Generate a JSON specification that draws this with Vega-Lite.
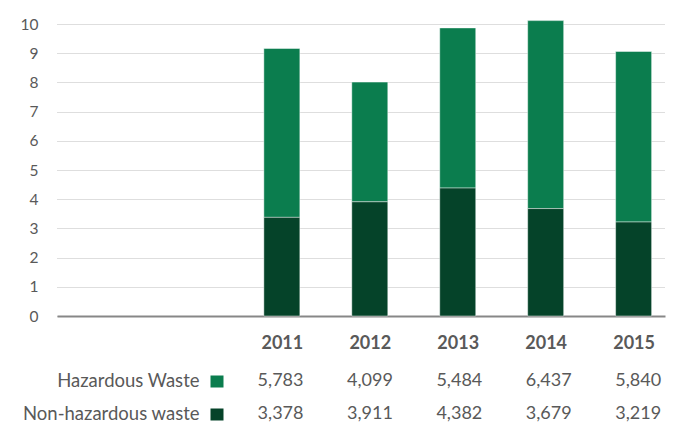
{
  "$schema": "https://vega.github.io/schema/vega-lite/v6.json",
  "padding": {"left": 20, "top": 17, "right": 5, "bottom": 0},
  "bounds": "flush",
  "spacing": 48,
  "config": {"font": "Lato", "view": {"stroke": null}},
  "data": {
    "values": [
      {"year": 2011, "series": "Hazardous Waste", "value": 5783},
      {"year": 2012, "series": "Hazardous Waste", "value": 4099},
      {"year": 2013, "series": "Hazardous Waste", "value": 5484},
      {"year": 2014, "series": "Hazardous Waste", "value": 6437},
      {"year": 2015, "series": "Hazardous Waste", "value": 5840},
      {"year": 2011, "series": "Non-hazardous waste", "value": 3378},
      {"year": 2012, "series": "Non-hazardous waste", "value": 3911},
      {"year": 2013, "series": "Non-hazardous waste", "value": 4382},
      {"year": 2014, "series": "Non-hazardous waste", "value": 3679},
      {"year": 2015, "series": "Non-hazardous waste", "value": 3219}
    ]
  },
  "vconcat": [
    {
      "width": 608,
      "height": 292,
      "mark": {"type": "bar", "width": 36, "stroke": "#ffffff", "strokeOpacity": 0.45, "strokeWidth": 1},
      "encoding": {
        "x": {
          "field": "year",
          "type": "quantitative",
          "scale": {"domain": [2008.5, 2015.3], "nice": false, "zero": false},
          "axis": {
            "title": null,
            "values": [2011, 2012, 2013, 2014, 2015],
            "format": "d",
            "labelFlush": false,
            "labelAngle": 0,
            "labelFontSize": 18,
            "labelFontWeight": "bold",
            "labelColor": "#595959",
            "labelPadding": 18,
            "ticks": false,
            "tickSize": 0,
            "domain": true,
            "domainColor": "#878787",
            "domainWidth": 2,
            "grid": false
          }
        },
        "y": {
          "field": "value",
          "type": "quantitative",
          "stack": "zero",
          "scale": {"domain": [0, 10000], "nice": false},
          "axis": {
            "title": null,
            "values": [0, 1000, 2000, 3000, 4000, 5000, 6000, 7000, 8000, 9000, 10000],
            "labelExpr": "datum.value / 1000",
            "labelFontSize": 15.5,
            "labelColor": "#595959",
            "labelPadding": 19,
            "ticks": false,
            "tickSize": 0,
            "domain": false,
            "grid": true,
            "gridColor": "#bdbdbd",
            "gridDash": [1, 1],
            "gridWidth": 1
          }
        },
        "color": {
          "field": "series",
          "type": "nominal",
          "scale": {"domain": ["Hazardous Waste", "Non-hazardous waste"], "range": ["#0b7d4e", "#054329"]},
          "legend": null
        },
        "order": {"field": "series", "sort": "descending"}
      }
    },
    {
      "width": 608,
      "height": 66,
      "mark": {"type": "text", "fontSize": 18, "color": "#595959"},
      "encoding": {
        "x": {
          "field": "year",
          "type": "quantitative",
          "scale": {"domain": [2008.5, 2015.3], "nice": false, "zero": false},
          "axis": null
        },
        "y": {
          "field": "series",
          "type": "nominal",
          "scale": {"domain": ["Hazardous Waste", "Non-hazardous waste"]},
          "axis": {
            "title": null,
            "orient": "left",
            "offset": -166,
            "domain": false,
            "grid": false,
            "ticks": true,
            "tickSize": 13,
            "tickWidth": 12,
            "tickColor": {"condition": {"test": "datum.value === 'Hazardous Waste'", "value": "#0b7d4e"}, "value": "#054329"},
            "labelPadding": 11,
            "labelFontSize": 18.5,
            "labelColor": "#595959",
            "labelLimit": 400
          }
        },
        "text": {"field": "value", "type": "quantitative", "format": ","}
      }
    }
  ]
}
